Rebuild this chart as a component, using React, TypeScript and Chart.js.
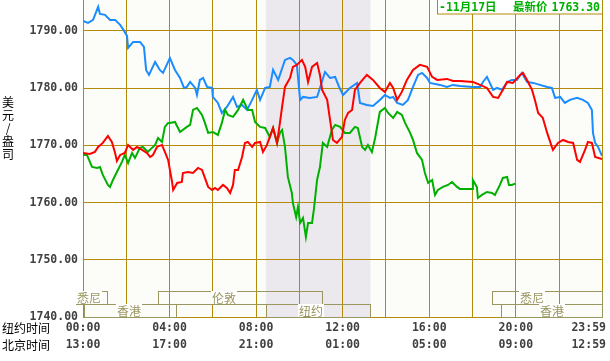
import React, { useEffect, useRef } from 'react';
import { Chart, registerables } from 'chart.js';

Chart.register(...registerables);

// ---------- data ----------
const xGridMinutes = [0, 120, 240, 360, 480, 600, 720, 840, 960, 1080, 1200, 1320, 1439];
const xLabelMinutes = [0, 240, 480, 720, 960, 1200, 1439];
const nyTimes = ['00:00', '04:00', '08:00', '12:00', '16:00', '20:00', '23:59'];
const bjTimes = ['13:00', '17:00', '21:00', '01:00', '05:00', '09:00', '12:59'];
const yTicks = [1740, 1750, 1760, 1770, 1780, 1790];

const blueMin = [0,14,28,42,47,61,75,89,103,114,122,125,139,158,169,175,183,200,213,222,241,255,269,280,288,297,311,316,324,333,344,358,360,374,385,399,416,427,441,455,469,482,491,505,518,527,541,546,560,574,582,593,602,610,629,649,657,671,685,699,710,721,740,760,768,787,804,823,837,851,860,871,887,901,915,929,940,954,962,990,1009,1026,1045,1081,1101,1109,1120,1128,1137,1148,1162,1176,1189,1203,1217,1231,1248,1267,1287,1300,1309,1323,1336,1350,1370,1386,1400,1411,1414,1420,1428,1439];
const blueVal = [1791.75,1791.40,1791.92,1794.20,1792.97,1792.80,1791.92,1791.92,1791.05,1790.00,1789.13,1787.03,1788.08,1788.08,1787.20,1783.18,1782.31,1784.58,1783.18,1782.66,1785.28,1783.18,1781.78,1780.03,1780.21,1781.08,1780.03,1778.81,1781.43,1781.78,1780.21,1780.03,1778.46,1777.41,1775.66,1776.71,1778.46,1776.71,1777.06,1776.19,1777.94,1779.69,1777.94,1780.03,1780.21,1783.18,1781.43,1782.31,1784.93,1785.28,1784.93,1784.06,1777.94,1778.46,1778.29,1778.46,1780.03,1782.83,1781.78,1781.96,1780.21,1778.81,1780.03,1780.91,1777.41,1777.06,1776.89,1777.94,1778.81,1778.29,1778.46,1777.41,1777.06,1777.94,1780.21,1782.31,1782.66,1781.78,1780.91,1780.56,1780.21,1780.56,1780.38,1780.21,1780.21,1781.08,1781.96,1780.91,1779.69,1780.03,1779.69,1781.08,1781.43,1781.43,1782.66,1781.08,1780.91,1780.56,1780.21,1780.03,1778.29,1778.46,1777.41,1777.94,1778.29,1777.94,1777.41,1776.19,1772.17,1770.42,1769.72,1768.15];

const redMin = [0,19,33,42,55,69,80,89,94,103,116,125,139,150,164,177,186,194,205,219,227,236,241,247,250,261,274,277,291,305,319,330,338,347,358,366,374,388,399,408,416,421,430,441,449,457,469,477,491,499,510,518,527,538,546,552,560,574,582,593,607,616,624,635,649,657,663,677,685,693,704,718,726,735,746,754,768,787,804,823,837,851,860,871,884,898,915,934,954,968,982,1009,1026,1045,1081,1101,1120,1137,1151,1164,1176,1192,1212,1220,1231,1245,1253,1262,1275,1287,1300,1303,1317,1331,1345,1359,1370,1378,1392,1400,1411,1420,1439];
const redVal = [1768.67,1768.50,1768.85,1769.72,1770.42,1771.64,1770.59,1768.67,1767.27,1768.32,1768.67,1770.07,1769.20,1769.72,1769.20,1768.67,1767.97,1768.32,1769.72,1770.07,1768.85,1767.45,1765.70,1763.60,1762.20,1763.43,1763.60,1765.17,1765.35,1765.17,1766.05,1765.70,1764.30,1762.73,1762.20,1762.55,1762.20,1763.08,1762.55,1761.68,1763.08,1765.70,1765.70,1767.97,1770.42,1770.59,1769.72,1770.42,1770.59,1768.85,1770.07,1771.47,1773.04,1770.42,1773.92,1776.71,1780.21,1781.78,1783.71,1784.06,1784.93,1783.71,1781.08,1783.71,1784.41,1782.31,1779.69,1777.94,1774.44,1770.94,1770.42,1771.47,1774.44,1775.66,1776.19,1779.69,1780.91,1782.31,1781.43,1780.03,1779.34,1780.91,1780.03,1777.94,1779.34,1781.43,1783.18,1784.06,1783.71,1781.96,1781.43,1781.61,1781.26,1781.26,1781.08,1780.56,1780.03,1778.46,1778.29,1779.69,1781.08,1780.91,1782.31,1782.66,1781.43,1779.69,1777.94,1775.66,1774.79,1772.17,1769.72,1769.20,1770.42,1770.94,1770.59,1770.42,1767.45,1767.10,1769.20,1770.59,1770.42,1767.97,1767.62];

const greenMin = [0,11,25,39,47,55,69,75,83,94,108,116,125,136,144,158,166,180,191,200,208,219,227,236,241,255,269,288,297,305,316,330,338,347,360,374,385,394,402,416,430,444,457,469,477,491,505,518,527,538,546,552,560,568,579,582,591,596,602,610,618,624,635,640,649,657,665,677,690,699,713,726,740,754,762,774,782,790,801,810,823,837,846,860,871,884,893,907,915,926,940,948,957,968,976,984,998,1012,1023,1037,1045,1079,1081,1092,1095,1106,1120,1134,1142,1156,1164,1176,1181,1189,1198];
const greenVal = [1768.32,1768.32,1766.22,1766.05,1766.22,1764.83,1763.08,1762.73,1763.95,1765.35,1767.10,1768.32,1766.92,1768.67,1767.80,1769.55,1769.72,1768.85,1769.55,1770.07,1771.29,1770.59,1773.22,1773.92,1773.92,1774.09,1772.34,1773.22,1773.57,1776.19,1776.54,1775.31,1773.92,1772.17,1772.34,1771.82,1773.92,1776.19,1775.31,1774.97,1776.19,1777.94,1776.19,1776.19,1774.09,1773.22,1773.04,1771.47,1773.04,1770.42,1772.17,1772.69,1769.72,1764.48,1761.68,1759.93,1757.48,1759.23,1756.43,1757.31,1753.99,1756.43,1756.43,1758.71,1763.95,1766.22,1770.42,1769.72,1772.69,1773.57,1773.22,1772.17,1772.17,1773.22,1773.04,1769.72,1769.20,1770.07,1768.85,1771.29,1775.84,1776.54,1775.66,1774.79,1775.84,1775.31,1773.92,1772.17,1770.94,1768.67,1767.45,1765.17,1763.43,1763.95,1761.33,1762.20,1762.73,1763.08,1763.60,1762.73,1762.38,1762.38,1763.95,1762.73,1760.80,1761.33,1761.85,1761.68,1761.33,1763.08,1764.30,1764.48,1763.08,1763.08,1763.30];

// New York session shading (minutes)
const shadeRange = [507, 797];

// trading sessions: name, row, start, end, label centre (minutes)
const sessionNames = ['悉尼', '伦敦', '悉尼', '香港', '纽约', '香港'];
const sessionRows = [0, 0, 0, 1, 1, 1];
const sessionStart = [-19, 208, 1134, 3, 507, 1159];
const sessionEnd = [67, 663, 1439, 258, 796, 1439];
const sessionLabelAt = [17, 390, 1245, 128, 632, 1299];

const legendDate = '-11月17日';
const legendLatestLabel = '最新价';
const legendLatest = '1763.30';
const yTitleChars = ['美', '元', '/', '盎', '司'];

// ---------- styles ----------
const GRID = '#b48a0a';
const PLOT_BG = '#fcfdf8';
const SHADE = '#ece9ee';
const OLIVE = '#9a9660';
const TEXT = '#404040';
const BLUE = '#1a8cff';
const RED = '#ff0000';
const GREEN = '#00b000';
const MONO = '"DejaVu Sans Mono", "Noto Sans CJK SC", monospace';
const CJK = '"Noto Sans CJK SC", sans-serif';

const pts = (xs: number[], ys: number[]) => xs.map((x, i) => ({ x, y: ys[i] }));

const deco = {
  id: 'deco',
  beforeDraw(chart: any) {
    const { ctx, chartArea: a, scales } = chart;
    const x = scales.x;
    ctx.save();
    ctx.fillStyle = '#ffffff';
    ctx.fillRect(0, 0, chart.width, chart.height);
    ctx.fillStyle = PLOT_BG;
    ctx.fillRect(a.left, a.top, a.right - a.left, a.bottom - a.top);
    const s0 = x.getPixelForValue(shadeRange[0]);
    const s1 = x.getPixelForValue(shadeRange[1]);
    ctx.fillStyle = SHADE;
    ctx.fillRect(s0, a.top, s1 - s0, a.bottom - a.top);
    ctx.restore();
  },
  afterDraw(chart: any) {
    const { ctx, chartArea: a, scales } = chart;
    const x = scales.x;
    ctx.save();
    // sessions
    const rowH = 13;
    ctx.lineWidth = 1;
    ctx.font = `12px ${CJK}`;
    ctx.textAlign = 'center';
    ctx.textBaseline = 'middle';
    sessionNames.forEach((name, i) => {
      const top = a.bottom - rowH * (2 - sessionRows[i]);
      const xs = Math.round(x.getPixelForValue(sessionStart[i]));
      const xe = Math.round(x.getPixelForValue(sessionEnd[i]));
      ctx.strokeStyle = OLIVE;
      ctx.strokeRect(xs + 0.5, top + 0.5, xe - xs, rowH);
      const cx = Math.round(x.getPixelForValue(sessionLabelAt[i]));
      const w = ctx.measureText(name).width;
      ctx.fillStyle = '#ffffff';
      ctx.fillRect(cx - w / 2 - 1, top, w + 2, rowH);
      ctx.fillStyle = OLIVE;
      ctx.fillText(name, cx, top + 7);
    });
    // x labels
    ctx.font = `bold 11.5px ${MONO}`;
    ctx.fillStyle = TEXT;
    xLabelMinutes.forEach((m, i) => {
      let px = x.getPixelForValue(m);
      const w = ctx.measureText(nyTimes[i]).width;
      if (px + w / 2 > chart.width - 4) px = chart.width - 4 - w / 2;
      ctx.fillText(nyTimes[i], px, a.bottom + 11);
      ctx.fillText(bjTimes[i], px, a.bottom + 28);
    });
    // left labels
    ctx.font = `12px ${CJK}`;
    ctx.fillStyle = '#000000';
    ctx.textAlign = 'left';
    ctx.fillText('纽约时间', 2, a.bottom + 11);
    ctx.fillText('北京时间', 2, a.bottom + 28);
    // y title
    ctx.textAlign = 'center';
    yTitleChars.forEach((c, i) => {
      ctx.fillText(c, 8, 102 + i * 13.2);
    });
    // legend box
    ctx.fillStyle = '#ffffff';
    ctx.fillRect(437, -2, 165, 16);
    ctx.strokeStyle = GRID;
    ctx.strokeRect(437.5, -1.5, 165, 15.5);
    ctx.fillStyle = GREEN;
    ctx.font = `bold 11.5px ${MONO}`;
    ctx.textAlign = 'left';
    ctx.fillText(legendDate, 439, 8);
    ctx.fillText(legendLatestLabel, 513, 8);
    ctx.textAlign = 'right';
    ctx.fillText(legendLatest, 600, 8);
    ctx.restore();
  },
};

export default function App() {
  const ref = useRef<HTMLCanvasElement>(null);
  useEffect(() => {
    const chart = new Chart(ref.current as HTMLCanvasElement, {
      type: 'line',
      data: {
        datasets: [
          { data: pts(redMin, redVal), borderColor: RED, borderWidth: 2, pointRadius: 0, tension: 0, fill: false },
          { data: pts(greenMin, greenVal), borderColor: GREEN, borderWidth: 2, pointRadius: 0, tension: 0, fill: false },
          { data: pts(blueMin, blueVal), borderColor: BLUE, borderWidth: 2, pointRadius: 0, tension: 0, fill: false },
        ],
      },
      options: {
        animation: false,
        responsive: false,
        devicePixelRatio: 1,
        layout: { padding: { left: 0, right: 8, top: 0, bottom: 0 } },
        plugins: { legend: { display: false }, tooltip: { enabled: false } },
        scales: {
          x: {
            type: 'linear',
            min: 0,
            max: 1439,
            afterBuildTicks: (s: any) => {
              s.ticks = xGridMinutes.map((v) => ({ value: v }));
            },
            afterFit: (s: any) => {
              s.height = 44;
              s.paddingLeft = 0;
              s.paddingRight = 0;
            },
            ticks: { display: false },
            grid: { color: GRID, lineWidth: 1, drawTicks: false },
            border: { display: false },
          },
          y: {
            type: 'linear',
            min: 1740,
            max: 1795.4,
            afterBuildTicks: (s: any) => {
              s.ticks = yTicks.map((v) => ({ value: v }));
            },
            afterFit: (s: any) => {
              s.width = 83;
              s.paddingTop = 0;
              s.paddingBottom = 0;
            },
            ticks: {
              callback: (v: any) => Number(v).toFixed(2),
              font: { family: '"DejaVu Sans Mono"', size: 11.5, weight: 'bold' },
              color: TEXT,
              padding: 5,
            },
            grid: { color: GRID, lineWidth: 1, drawTicks: false },
            border: { display: true, color: GRID, width: 1 },
          },
        },
      },
      plugins: [deco],
    } as any);
    return () => chart.destroy();
  }, []);
  return (
    <div style={{ position: 'fixed', left: 0, top: 0, width: 610, height: 361, background: '#fff' }}>
      <canvas ref={ref} width={610} height={361} style={{ display: 'block', width: 610, height: 361 }} />
    </div>
  );
}
